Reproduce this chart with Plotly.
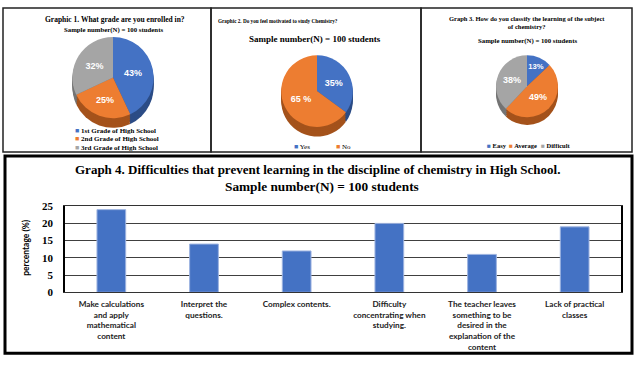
import plotly.graph_objects as go

W, H = 639, 365

# ---------------- data ----------------
sample_text = "Sample number(N) = 100 students"

pie1_title = "Graphic 1. What grade are you enrolled in?"
pie1_labels = ["1st Grade of High School", "2nd Grade of High School", "3rd Grade of High School"]
pie1_values = [43, 25, 32]
pie1_text = ["43%", "25%", "32%"]

pie2_title = "Graphic 2. Do you feel motivated to study Chemistry?"
pie2_labels = ["Yes", "No"]
pie2_values = [35, 65]
pie2_text = ["35%", "65 %"]

pie3_title = "Graph 3. How do you classify the learning of the subject<br>of chemistry?"
pie3_labels = ["Easy", "Average", "Difficult"]
pie3_values = [13, 49, 38]
pie3_text = ["13%", "49%", "38%"]

bar_title = "Graph 4. Difficulties that prevent learning in the discipline of chemistry in High School."
bar_categories = [
    "Make calculations<br>and apply<br>mathematical<br>content",
    "Interpret the<br>questions.",
    "Complex contents.",
    "Difficulty<br>concentrating when<br>studying.",
    "The teacher leaves<br>something to be<br>desired in the<br>explanation of the<br>content",
    "Lack of practical<br>classes",
]
bar_values = [24, 14, 12, 20, 11, 19]
y_ticks = [0, 5, 10, 15, 20, 25]
y_title = "percentage (%)"

# ---------------- styles ----------------
BLUE, ORANGE, GREY = "#4472C4", "#ED7D31", "#A5A5A5"
DBLUE, DORANGE, DGREY = "#2B4C86", "#A4521B", "#747474"
SERIF = "Liberation Serif"
SANS = "Liberation Sans"
LBL = "Lato"


def px(x):
    return x / W


def py(y):
    return 1 - y / H


fig = go.Figure()


def add_pie(labels, values, text, colors, dark, cx, cy, d, depth):
    r = d / 2
    for off in range(depth, 0, -2):
        fig.add_trace(go.Pie(
            labels=labels, values=values, sort=False, direction="clockwise", rotation=0,
            marker=dict(colors=dark, line=dict(width=0)), textinfo="none",
            hoverinfo="skip", showlegend=False,
            domain=dict(x=[px(cx - r), px(cx + r)], y=[py(cy + r + off), py(cy - r + off)]),
        ))
    fig.add_trace(go.Pie(
        labels=labels, values=values, sort=False, direction="clockwise", rotation=0,
        marker=dict(colors=colors, line=dict(width=0)),
        text=text, texttemplate="<b>%{text}</b>", textposition="inside",
        insidetextorientation="horizontal",
        insidetextfont=dict(color="white", size=9, family=SANS),
        showlegend=False,
        domain=dict(x=[px(cx - r), px(cx + r)], y=[py(cy + r), py(cy - r)]),
    ))


add_pie(pie1_labels, pie1_values, pie1_text, [BLUE, ORANGE, GREY], [DBLUE, DORANGE, DGREY], 113, 74, 84, 10)
add_pie(pie2_labels, pie2_values, pie2_text, [BLUE, ORANGE], [DBLUE, DORANGE], 317, 88, 74, 10)
add_pie(pie3_labels, pie3_values, pie3_text, [BLUE, ORANGE, GREY], [DBLUE, DORANGE, DGREY], 527, 83, 64, 8)

# ---------------- bar chart ----------------
fig.add_trace(go.Bar(
    x=bar_categories, y=bar_values, width=0.31, showlegend=False,
    marker=dict(color=BLUE, line=dict(color="#9DB3E0", width=1)),
    xaxis="x", yaxis="y",
))

ann = []


def text(x, y, s, size, family=SERIF, bold=True, anchor="center", color="black", angle=0):
    if bold:
        s = "<br>".join(f"<b>{part}</b>" for part in s.split("<br>"))
    ann.append(dict(
        x=px(x), y=py(y), xref="paper", yref="paper", text=s, showarrow=False,
        xanchor=anchor, yanchor="middle", textangle=angle,
        font=dict(size=size, family=family, color=color),
    ))


# pie titles
text(115, 14, pie1_title, 7.5)
text(113, 25, sample_text, 6.8)
text(278, 15, pie2_title, 5.2)
text(315, 34, sample_text, 9)
text(527, 17, pie3_title, 6.5)
text(527, 36, sample_text, 6.8)


# pie legends
def sq(c):
    return f"<span style='color:{c}'>■</span>"


for i, (lab, c) in enumerate(zip(pie1_labels, [BLUE, ORANGE, GREY])):
    text(73, 129 + 9 * i, sq(c) + " " + lab, 7, anchor="left")
text(292, 146, sq(BLUE) + " " + pie2_labels[0], 7, bold=False, anchor="left")
text(334, 146, sq(ORANGE) + " " + pie2_labels[1], 7, bold=False, anchor="left")
text(485, 144, sq(BLUE) + " " + pie3_labels[0], 6.5, anchor="left")
text(507, 144, sq(ORANGE) + " " + pie3_labels[1], 6.5, anchor="left")
text(539, 144, sq(GREY) + " " + pie3_labels[2], 6.5, anchor="left")

# bar titles
text(317, 169, bar_title, 13)
text(322, 187, sample_text, 13.3)
text(26, 250, y_title, 8.5, family=LBL, angle=-90)

shapes = [
    dict(type="rect", xref="paper", yref="paper", x0=px(3), x1=px(211), y0=py(151), y1=py(2),
         line=dict(color="#222", width=1.5)),
    dict(type="rect", xref="paper", yref="paper", x0=px(211), x1=px(421), y0=py(151), y1=py(2),
         line=dict(color="#222", width=1.5)),
    dict(type="rect", xref="paper", yref="paper", x0=px(421), x1=px(632), y0=py(151), y1=py(2),
         line=dict(color="#222", width=1.5)),
    dict(type="rect", xref="paper", yref="paper", x0=px(5), x1=px(632), y0=py(359), y1=py(155),
         line=dict(color="black", width=3)),
]

fig.update_layout(
    width=W, height=H, margin=dict(l=0, r=0, t=0, b=0),
    paper_bgcolor="white", plot_bgcolor="white",
    showlegend=False, annotations=ann, shapes=shapes, bargap=0.7,
    xaxis=dict(domain=[px(65), px(621)], tickangle=0, showgrid=False,
               showline=True, linecolor="#333", linewidth=1, mirror=True,
               tickvals=bar_categories,
               ticktext=["<b>" + c.replace("<br>", "</b><br><b>") + "</b>" for c in bar_categories],
               tickfont=dict(family=LBL, size=8.2, color="#222"),
               ticklabelstandoff=4),
    yaxis=dict(domain=[py(296), py(207)], range=[0, 25], tickvals=y_ticks,
               ticktext=[f"<b>{t}</b>" for t in y_ticks],
               showgrid=True, gridcolor="#404040", gridwidth=1,
               showline=True, linecolor="black", linewidth=1.5, mirror=True,
               zeroline=False,
               tickfont=dict(family=SERIF, size=11, color="black"),
               ticklabelstandoff=8),
)

fig.write_html("out.html", config={"displayModeBar": False},
               post_script="document.body.style.margin='0';")
